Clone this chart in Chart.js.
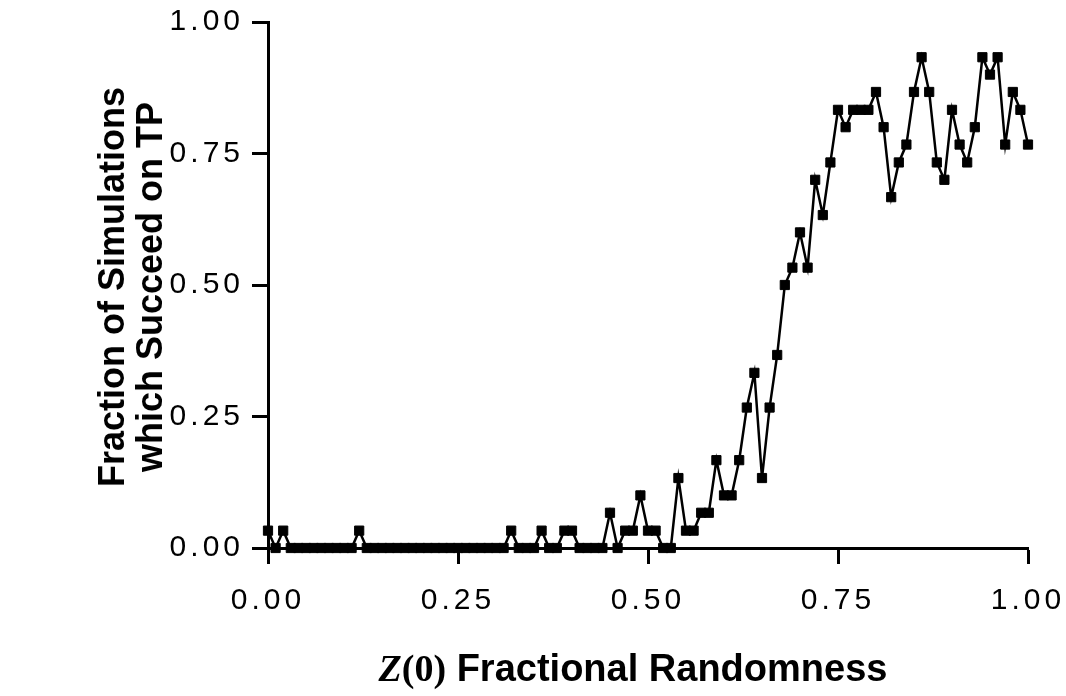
<!DOCTYPE html>
<html>
<head>
<meta charset="utf-8">
<title>Fraction of Simulations which Succeed on TP</title>
<script src="https://cdn.jsdelivr.net/npm/chart.js@4/dist/chart.umd.min.js"></script>
<style>
  html, body { margin: 0; padding: 0; background: #fff; }
  #wrap { position: relative; width: 1066px; height: 696px; overflow: hidden; }
  #chart { position: absolute; left: 0; top: 0; }
  .axis-title {
    position: absolute;
    font-family: "Liberation Sans", Arial, sans-serif;
    font-weight: bold;
    font-size: 36px;
    line-height: 38px;
    color: #000;
    white-space: nowrap;
  }
  #yTitle { left: 131px; top: 287px; text-align: center; transform: translate(-50%, -50%) rotate(-90deg); }
  #xTitle { left: 633px; top: 668px; font-size: 38px; transform: translate(-50%, -50%); }
  #xTitle .serif { font-family: "Liberation Serif", "Times New Roman", serif; }
</style>
</head>
<body>
<div id="wrap">
  <canvas id="chart" width="1066" height="696"></canvas>
  <div class="axis-title" id="yTitle">Fraction of Simulations<br>which Succeed on TP</div>
  <div class="axis-title" id="xTitle"><span class="serif"><i>Z</i>(0)</span> Fractional Randomness</div>
</div>
<script>
// Z(0) fractional randomness, one run every 0.01
const zValues = [
  0.00, 0.01, 0.02, 0.03, 0.04, 0.05, 0.06, 0.07, 0.08, 0.09,
  0.10, 0.11, 0.12, 0.13, 0.14, 0.15, 0.16, 0.17, 0.18, 0.19,
  0.20, 0.21, 0.22, 0.23, 0.24, 0.25, 0.26, 0.27, 0.28, 0.29,
  0.30, 0.31, 0.32, 0.33, 0.34, 0.35, 0.36, 0.37, 0.38, 0.39,
  0.40, 0.41, 0.42, 0.43, 0.44, 0.45, 0.46, 0.47, 0.48, 0.49,
  0.50, 0.51, 0.52, 0.53, 0.54, 0.55, 0.56, 0.57, 0.58, 0.59,
  0.60, 0.61, 0.62, 0.63, 0.64, 0.65, 0.66, 0.67, 0.68, 0.69,
  0.70, 0.71, 0.72, 0.73, 0.74, 0.75, 0.76, 0.77, 0.78, 0.79,
  0.80, 0.81, 0.82, 0.83, 0.84, 0.85, 0.86, 0.87, 0.88, 0.89,
  0.90, 0.91, 0.92, 0.93, 0.94, 0.95, 0.96, 0.97, 0.98, 0.99,
  1.00,
];

// fraction of the 30 simulations that succeed on TP
const successFraction = [
  0.033, 0, 0.033, 0, 0, 0, 0, 0, 0, 0,
  0, 0, 0.033, 0, 0, 0, 0, 0, 0, 0,
  0, 0, 0, 0, 0, 0, 0, 0, 0, 0,
  0, 0, 0.033, 0, 0, 0, 0.033, 0, 0, 0.033,
  0.033, 0, 0, 0, 0, 0.067, 0, 0.033, 0.033, 0.1,
  0.033, 0.033, 0, 0, 0.133, 0.033, 0.033, 0.067, 0.067, 0.167,
  0.1, 0.1, 0.167, 0.267, 0.333, 0.133, 0.267, 0.367, 0.5, 0.533,
  0.6, 0.533, 0.7, 0.633, 0.733, 0.833, 0.8, 0.833, 0.833, 0.833,
  0.867, 0.8, 0.667, 0.733, 0.767, 0.867, 0.933, 0.867, 0.733, 0.7,
  0.833, 0.767, 0.733, 0.8, 0.933, 0.9, 0.933, 0.767, 0.867, 0.833,
  0.767,
];

const xTickValues = [0, 0.25, 0.5, 0.75, 1];
const yTickValues = [0, 0.25, 0.5, 0.75, 1];

(function () {
  "use strict";

  // the old plot uses a widely spaced face for the tick numbers
  const tickSpacing = {
    id: "tickSpacing",
    beforeDraw(chart) { chart.ctx.letterSpacing = "4px"; },
    afterDraw(chart) { chart.ctx.letterSpacing = "0px"; },
  };

  const tickFont = { family: "'Liberation Sans', Arial, sans-serif", size: 30 };

  function axis(tickValues, labelPadding) {
    return {
      type: "linear",
      min: 0,
      max: 1,
      afterBuildTicks: (scale) => { scale.ticks = tickValues.map((v) => ({ value: v })); },
      ticks: { color: "#000", font: tickFont, padding: labelPadding, callback: (v) => v.toFixed(2) },
      grid: { drawOnChartArea: false, drawTicks: true, tickLength: 16, tickWidth: 3, tickColor: "#000" },
      border: { display: true, color: "#000", width: 3 },
    };
  }

  const xAxis = axis(xTickValues, 19);
  xAxis.afterFit = (scale) => {
    scale.height = 148;
    scale.paddingLeft = 0;
    scale.paddingRight = 0;
  };
  const yAxis = axis(yTickValues, 8);
  yAxis.afterFit = (scale) => {
    scale.width = 268;
    scale.paddingTop = 0;
    scale.paddingBottom = 0;
  };

  new Chart(document.getElementById("chart"), {
    type: "line",
    data: {
      datasets: [
        {
          data: zValues.map((z, i) => ({ x: z, y: successFraction[i] })),
          borderColor: "#000",
          borderWidth: 2.5,
          tension: 0,
          pointStyle: "rect",
          pointRadius: 6.5,
          pointBorderWidth: 1,
          pointBackgroundColor: "#000",
          pointBorderColor: "#000",
          clip: false,
        },
      ],
    },
    options: {
      responsive: false,
      animation: false,
      events: [],
      layout: { padding: { left: 0, top: 22, right: 38, bottom: 0 } },
      plugins: { legend: { display: false }, tooltip: { enabled: false } },
      scales: { x: xAxis, y: yAxis },
    },
    plugins: [tickSpacing],
  });
})();
</script>
</body>
</html>
